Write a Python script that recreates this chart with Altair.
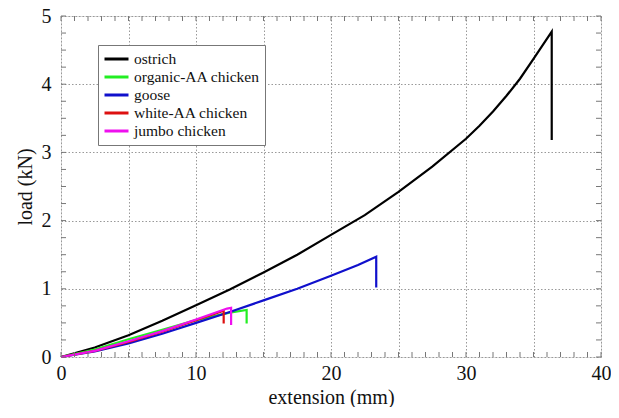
import altair as alt
import pandas as pd

series_names = ["ostrich", "organic-AA chicken", "goose", "white-AA chicken", "jumbo chicken"]
series_colors = ["#000000", "#22ee22", "#1010cc", "#dd1010", "#ee10ee"]

ostrich_x = [0, 2.5, 5, 7.5, 10, 12.5, 15, 17.5, 20, 22.5, 25, 27.5, 30, 31, 32, 33, 34, 35, 36.35, 36.35]
ostrich_y = [0, 0.14, 0.32, 0.53, 0.76, 0.99, 1.24, 1.5, 1.79, 2.08, 2.42, 2.79, 3.2, 3.39, 3.6, 3.83, 4.08, 4.37, 4.77, 3.18]

organic_x = [0, 2.5, 5, 7.5, 10, 12.5, 13.75, 13.75]
organic_y = [0, 0.11, 0.26, 0.4, 0.54, 0.65, 0.69, 0.49]

goose_x = [0, 2.5, 5, 7.5, 10, 12.5, 15, 17.5, 20, 22, 23.35, 23.35]
goose_y = [0, 0.08, 0.2, 0.34, 0.5, 0.66, 0.83, 1.0, 1.19, 1.35, 1.47, 1.02]

white_x = [0, 2.5, 5, 7.5, 10, 12.05, 12.05]
white_y = [0, 0.09, 0.22, 0.37, 0.54, 0.68, 0.49]

jumbo_x = [0, 2.5, 5, 7.5, 10, 12.3, 12.6, 12.6]
jumbo_y = [0, 0.09, 0.23, 0.38, 0.55, 0.71, 0.72, 0.47]

x_grid = [0, 5, 10, 15, 20, 25, 30, 35, 40]
y_grid = [0, 0.5, 1, 1.5, 2, 2.5, 3, 3.5, 4, 4.5, 5]
x_minor = list(range(0, 41))
y_minor = [i * 0.25 for i in range(0, 21)]

rows = []
for name, xs, ys in zip(series_names,
                        [ostrich_x, organic_x, goose_x, white_x, jumbo_x],
                        [ostrich_y, organic_y, goose_y, white_y, jumbo_y]):
    for i, (a, b) in enumerate(zip(xs, ys)):
        rows.append({"series": name, "ext": a, "load": b, "i": i})
df = pd.DataFrame(rows)

W, H = 540, 341
FONT = "Liberation Serif"
xscale = alt.Scale(domain=[0, 40], nice=False, zero=False)
yscale = alt.Scale(domain=[0, 5], nice=False, zero=False)

lines = alt.Chart(df).mark_line(strokeWidth=2.2).encode(
    x=alt.X("ext:Q", scale=xscale, title="extension (mm)",
            axis=alt.Axis(values=x_grid, format="~g",
                          labelExpr="datum.value % 10 == 0 ? datum.label : ''",
                          grid=True, gridDash=[1.5, 2], gridColor="#999999", ticks=False,
                          domain=False, labelFont=FONT, labelFontSize=20, labelColor="#111",
                          labelPadding=6, labelFlush=False, titleFont=FONT, titleFontSize=20,
                          titleFontWeight="normal", titleColor="#111", titlePadding=4)),
    y=alt.Y("load:Q", scale=yscale, title="load (kN)",
            axis=alt.Axis(values=y_grid, format="~g",
                          labelExpr="datum.value % 1 == 0 ? datum.label : ''",
                          grid=True, gridDash=[1.5, 2], gridColor="#999999", ticks=False,
                          domain=False, labelFont=FONT, labelFontSize=20, labelColor="#111",
                          labelPadding=10, labelFlush=False, titleFont=FONT, titleFontSize=20,
                          titleFontWeight="normal", titleColor="#111", titlePadding=6)),
    color=alt.Color("series:N", scale=alt.Scale(domain=series_names, range=series_colors),
                    sort=series_names,
                    legend=alt.Legend(title=None, orient="none", legendX=37, legendY=29,
                                      symbolType="M-1,0H2.2", symbolStrokeWidth=3,
                                      symbolSize=225, symbolFillColor="transparent",
                                      labelFont=FONT, labelFontSize=15.5, labelColor="#111",
                                      strokeColor="#777", fillColor="white", padding=5,
                                      rowPadding=0, labelOffset=13)),
    order=alt.Order("i:Q"),
    detail="series:N",
)


def xticks(vals, length, top):
    d = pd.DataFrame({"v": vals})
    return alt.Chart(d).mark_rule(color="#777", strokeWidth=1).encode(
        x=alt.X("v:Q", scale=xscale),
        y=alt.value(0 if top else H),
        y2=alt.value(length if top else H - length),
    )


def yticks(vals, length, right):
    d = pd.DataFrame({"v": vals})
    return alt.Chart(d).mark_rule(color="#777", strokeWidth=1).encode(
        y=alt.Y("v:Q", scale=yscale),
        x=alt.value(W if right else 0),
        x2=alt.value(W - length if right else length),
    )


tick_layers = [
    xticks(x_minor, 5, False), xticks(x_minor, 5, True),
    yticks(y_minor, 5, False), yticks(y_minor, 5, True),
]

chart = alt.layer(lines, *tick_layers).properties(
    width=W, height=H,
    autosize=alt.AutoSizeParams(type="none"),
    padding={"left": 53, "top": 8, "right": 10, "bottom": 50},
).configure_view(stroke="#888", strokeWidth=1.2).configure(background="white")

chart.save("out.html", embed_options={"renderer": "svg", "actions": False})
